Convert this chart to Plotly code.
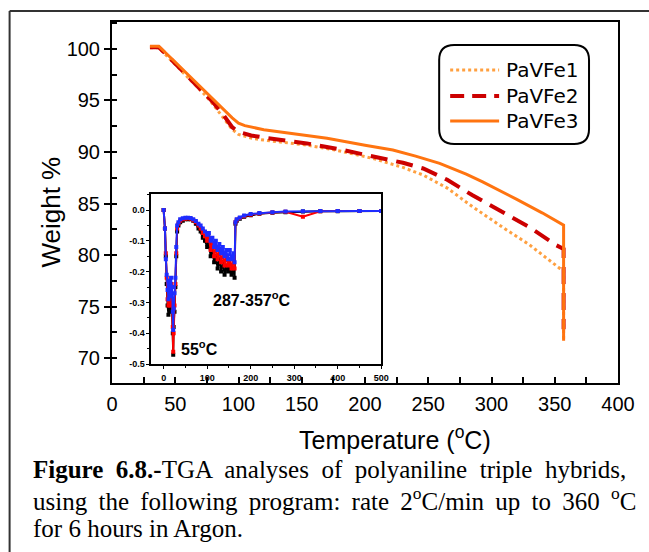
import plotly.graph_objects as go

# ---------------- data ----------------
temp_fe1 = [30, 37, 45, 55, 65, 73, 80, 88, 95, 100, 110, 120, 154, 180, 206, 230, 246, 265, 285, 310, 330, 354, 357, 357]
weight_fe1 = [100.1, 100.1, 99.1, 97.8, 96.6, 95.6, 94.6, 93.3, 92.2, 91.7, 91.35, 91.15, 90.67, 90.1, 89.38, 88.5, 87.76, 86.5, 84.69, 82.6, 81.0, 78.71, 78.5, 71.9]

temp_fe2 = [30, 37, 45, 55, 65, 73, 80, 88, 95, 100, 110, 120, 154, 180, 206, 230, 246, 265, 285, 310, 330, 351, 357, 357]
weight_fe2 = [100.15, 100.15, 99.2, 97.95, 96.75, 95.75, 94.8, 93.6, 92.4, 91.95, 91.6, 91.4, 90.83, 90.25, 89.6, 88.95, 88.4, 87.3, 85.8, 84.1, 82.7, 80.97, 80.6, 72.8]

temp_fe3 = [30, 37, 45, 55, 65, 73, 80, 88, 95, 100, 105, 120, 150, 170, 200, 222, 240, 259, 280, 293, 320, 340, 357, 357]
weight_fe3 = [100.25, 100.25, 99.3, 98.1, 96.9, 95.95, 95.1, 94.1, 93.3, 92.8, 92.55, 92.15, 91.65, 91.32, 90.65, 90.19, 89.6, 88.9, 87.85, 87.1, 85.4, 84.1, 82.9, 71.7]

series_names = ["PaVFe1", "PaVFe2", "PaVFe3"]
series_colors = ["#FFA040", "#CC0000", "#FF7410"]
series_dash = ["dot", "17px,9px", "solid"]
series_width = [3, 4, 3]

# inset (DTG) data
dtg_x = [0, 3, 5, 7, 9, 11, 13, 15, 17, 19, 21, 22, 23, 25, 27, 29, 31, 34, 38, 44,
         50, 56, 62, 68, 74, 80, 85, 90, 95, 100, 104, 108, 112, 116, 120, 124, 128, 132, 136, 140,
         144, 148, 152, 156, 160, 163, 165, 168, 175, 185, 200, 220, 250, 280, 320, 360, 400, 450, 500]
dtg_black = [0.0, -0.06, -0.15, -0.24, -0.31, -0.34, -0.27, -0.33, -0.25, -0.30,
             -0.40, -0.47, -0.38, -0.33, -0.25, -0.15, -0.07, -0.05, -0.04, -0.035,
             -0.03, -0.03, -0.03, -0.035, -0.045, -0.06, -0.07, -0.09, -0.10, -0.12,
             -0.11, -0.15, -0.13, -0.17, -0.15, -0.19, -0.16, -0.20, -0.17, -0.21,
             -0.18, -0.20, -0.19, -0.21, -0.19, -0.22, -0.045, -0.035, -0.028, -0.022,
             -0.017, -0.012, -0.009, -0.007, -0.005, -0.004, -0.004, -0.003, -0.003]
dtg_red = [0.0, -0.06, -0.14, -0.22, -0.29, -0.31, -0.26, -0.31, -0.24, -0.29,
           -0.38, -0.46, -0.40, -0.31, -0.24, -0.14, -0.06, -0.045, -0.035, -0.03,
           -0.028, -0.027, -0.028, -0.033, -0.04, -0.05, -0.06, -0.075, -0.085, -0.10,
           -0.09, -0.13, -0.11, -0.15, -0.12, -0.16, -0.13, -0.17, -0.14, -0.18,
           -0.15, -0.18, -0.16, -0.19, -0.16, -0.19, -0.04, -0.032, -0.026, -0.02,
           -0.015, -0.011, -0.008, -0.006, -0.022, -0.004, -0.003, -0.003, -0.003]
dtg_blue = [0.0, -0.06, -0.16, -0.21, -0.26, -0.29, -0.23, -0.28, -0.22, -0.25,
            -0.33, -0.39, -0.32, -0.27, -0.22, -0.12, -0.05, -0.04, -0.03, -0.027,
            -0.025, -0.025, -0.026, -0.03, -0.036, -0.045, -0.05, -0.06, -0.07, -0.08,
            -0.075, -0.10, -0.09, -0.12, -0.10, -0.13, -0.11, -0.14, -0.12, -0.15,
            -0.13, -0.16, -0.13, -0.16, -0.14, -0.17, -0.04, -0.03, -0.024, -0.018,
            -0.013, -0.01, -0.007, -0.005, -0.004, -0.003, -0.003, -0.003, -0.003]

main_xticks = [0, 50, 100, 150, 200, 250, 300, 350, 400]
main_yticks = [70, 75, 80, 85, 90, 95, 100]
inset_xticks = [0, 100, 200, 300, 400, 500]
inset_yticks = [0.0, -0.1, -0.2, -0.3, -0.4, -0.5]
inset_ytext = ["0.0", "-0.1", "-0.2", "-0.3", "-0.4", "-0.5"]

caption_lines = [
    "<b>Figure 6.8.-</b>TGA analyses of polyaniline triple hybrids,",
    "using the following program: rate 2<sup>o</sup>C/min up to 360 <sup>o</sup>C",
    "for 6 hours in Argon.",
]

# ---------------- geometry helpers ----------------
W, H = 649, 552
L, R, T, B = 111.5, 618, 22, 383


def px(xp):
    return (xp - L) / (R - L)


def py(yp):
    return 1 - (yp - T) / (B - T)


fig = go.Figure()

main_series = [(temp_fe1, weight_fe1), (temp_fe2, weight_fe2), (temp_fe3, weight_fe3)]
for i, (xs, ys) in enumerate(main_series):
    fig.add_trace(go.Scatter(x=xs, y=ys, name=series_names[i], mode="lines", showlegend=False,
                             line=dict(color=series_colors[i], width=series_width[i], dash=series_dash[i])))

for ys, col in [(dtg_black, "#000000"), (dtg_red, "#FF0000"), (dtg_blue, "#1E2CFF")]:
    fig.add_trace(go.Scatter(x=dtg_x, y=ys, xaxis="x2", yaxis="y2", mode="lines+markers",
                             showlegend=False,
                             line=dict(color=col, width=2),
                             marker=dict(symbol="square", size=4, color=col)))

axis_font = dict(family="Liberation Sans, Arial", size=20, color="black")
inset_font = dict(family="Liberation Sans, Arial", size=9, color="black", weight="bold")

fig.update_layout(
    width=W, height=H,
    margin=dict(l=L, r=W - R, t=T, b=H - B),
    paper_bgcolor="white", plot_bgcolor="white",
    showlegend=False,
    xaxis=dict(domain=[0, 1], range=[0, 400], tickvals=main_xticks, ticks="inside", ticklen=6,
               tickwidth=1.5, tickcolor="black",
               minor=dict(dtick=25, ticks="inside", ticklen=6, tickcolor="black", tickwidth=1.5),
               showline=True, linecolor="black", linewidth=2, mirror=True,
               showgrid=False, zeroline=False, tickfont=axis_font, ticklabelstandoff=2),
    yaxis=dict(domain=[0, 1], range=[67.6, 102.6], tickvals=main_yticks, ticks="outside", ticklen=6,
               tickwidth=1.5, tickcolor="black",
               minor=dict(dtick=2.5, ticks="inside", ticklen=5, tickcolor="black", tickwidth=1.5),
               showline=True, linecolor="black", linewidth=2, mirror=True,
               showgrid=False, zeroline=False, tickfont=axis_font),
    xaxis2=dict(domain=[px(151), px(381)], anchor="y2", range=[-28, 500], tickvals=inset_xticks,
                ticks="outside", ticklen=3, tickcolor="black",
                minor=dict(dtick=50, ticks="outside", ticklen=2, tickcolor="black"),
                showline=True, linecolor="black", linewidth=2, mirror=True,
                showgrid=False, zeroline=False, tickfont=inset_font, ticklabelstandoff=1),
    yaxis2=dict(domain=[py(364), py(194.3)], anchor="x2", range=[-0.5, 0.051], tickvals=inset_yticks,
                ticktext=inset_ytext, ticks="outside", ticklen=3, tickcolor="black",
                minor=dict(dtick=0.05, ticks="outside", ticklen=2, tickcolor="black"),
                showline=True, linecolor="black", linewidth=2, mirror=True,
                showgrid=False, zeroline=False, tickfont=inset_font),
)

# legend: rounded box, key lines and labels
x0, y0, x1, y1, r = 439, 45, 589, 144, 15
pts = [
    ("M", [(x0 + r, y0)]),
    ("L", [(x1 - r, y0)]),
    ("Q", [(x1, y0), (x1, y0 + r)]),
    ("L", [(x1, y1 - r)]),
    ("Q", [(x1, y1), (x1 - r, y1)]),
    ("L", [(x0 + r, y1)]),
    ("Q", [(x0, y1), (x0, y1 - r)]),
    ("L", [(x0, y0 + r)]),
    ("Q", [(x0, y0), (x0 + r, y0)]),
]
path = ""
for cmd, ps in pts:
    path += cmd + " " + " ".join(f"{px(a):.5f},{py(b):.5f}" for a, b in ps) + " "
path += "Z"
fig.add_shape(type="path", path=path, xref="paper", yref="paper",
              line=dict(color="black", width=2), fillcolor="rgba(0,0,0,0)")

leg_rows = [70, 96, 121]
for i, name in enumerate(series_names):
    fig.add_shape(type="line", xref="paper", yref="paper", x0=px(450), x1=px(499),
                  y0=py(leg_rows[i]), y1=py(leg_rows[i]),
                  line=dict(color=series_colors[i], width=series_width[i],
                            dash=("dot" if series_dash[i] == "dot" else
                                  ("14px,8px" if series_dash[i] != "solid" else "solid"))))
    fig.add_annotation(text=name, xref="paper", yref="paper", x=px(504), y=py(leg_rows[i]),
                       showarrow=False, xanchor="left", yanchor="middle",
                       font=dict(family="DejaVu Sans", size=20, color="black"))

# outer frame (left and top borders)
fig.add_shape(type="line", xref="paper", yref="paper", x0=px(9), x1=px(9), y0=py(11), y1=py(560),
              line=dict(color="#333333", width=2))
fig.add_shape(type="line", xref="paper", yref="paper", x0=px(9), x1=px(660), y0=py(11), y1=py(11),
              line=dict(color="#333333", width=2))

# axis titles
fig.add_annotation(text="Weight %", xref="paper", yref="paper", x=px(50), y=py(212),
                   textangle=-90, showarrow=False, xanchor="center", yanchor="middle",
                   font=dict(family="Liberation Sans, Arial", size=26, color="black"))
fig.add_annotation(text="Temperature (<sup>o</sup>C)", xref="paper", yref="paper", x=px(395), y=py(438),
                   showarrow=False, xanchor="center", yanchor="middle",
                   font=dict(family="Liberation Sans, Arial", size=25, color="black"))

# inset labels
fig.add_annotation(text="<b>287-357<sup>o</sup>C</b>", xref="x2", yref="y2", x=203, y=-0.289,
                   showarrow=False, xanchor="center", yanchor="middle",
                   font=dict(family="Liberation Sans, Arial", size=16, color="black"))
fig.add_annotation(text="<b>55<sup>o</sup>C</b>", xref="x2", yref="y2", x=83, y=-0.449,
                   showarrow=False, xanchor="center", yanchor="middle",
                   font=dict(family="Liberation Sans, Arial", size=16, color="black"))

# caption
cap_y = [470, 499, 528]
for i, line in enumerate(caption_lines):
    txt = line
    if i == 0:
        txt = txt.replace(" ", " \u2005")
    elif i == 1:
        txt = txt.replace(" ", " \u2009")
    fig.add_annotation(text=txt, xref="paper", yref="paper", x=px(30), y=py(cap_y[i]),
                       showarrow=False, xanchor="left", yanchor="middle",
                       font=dict(family="Liberation Serif, Times New Roman", size=25, color="black"))

fig.write_html("out.html")
